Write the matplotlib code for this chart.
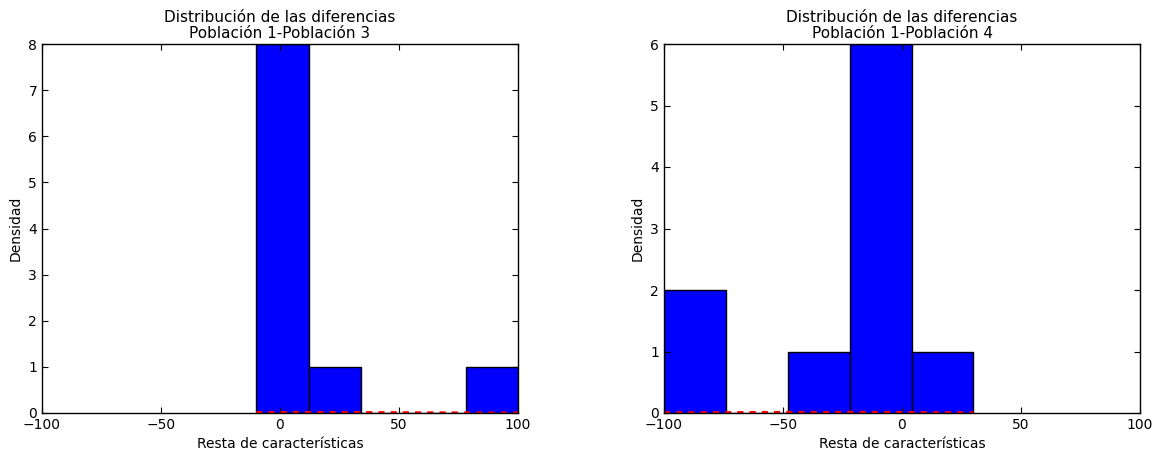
import numpy as np
import matplotlib.pyplot as plt

plt.rcParams.update({
    "font.family": "DejaVu Sans",
    "font.size": 10,
    "xtick.direction": "in",
    "ytick.direction": "in",
    "xtick.top": True,
    "ytick.right": True,
    "xtick.major.size": 4,
    "ytick.major.size": 4,
    "axes.linewidth": 1.0,
})

# Poblacion 1 - Poblacion 3
bins_13 = [-10, 12, 34, 56, 78, 100]
counts_13 = [8, 1, 0, 0, 1]
pdf_13 = [0.012, 0.016, 0.013, 0.008, 0.004, 0.002]

# Poblacion 1 - Poblacion 4
bins_14 = [-100, -74, -48, -22, 4, 30]
counts_14 = [2, 0, 1, 6, 1]
pdf_14 = [0.005, 0.009, 0.012, 0.013, 0.010, 0.006]

paneles = [
    ("Población 1-Población 3", bins_13, counts_13, pdf_13, 8),
    ("Población 1-Población 4", bins_14, counts_14, pdf_14, 6),
]

fig = plt.figure(figsize=(11.6, 4.51), dpi=100)
lefts = [42 / 1160, 664 / 1160]
for left, (sub, bins, counts, pdf, ymax) in zip(lefts, paneles):
    ax = fig.add_axes([left, 1 - 413 / 451, 476 / 1160, 369 / 451])
    ax.hist(bins[:-1], bins=bins, weights=counts, color="#0000ff",
            edgecolor="black", linewidth=1.0)
    ax.plot(bins, pdf, "r--", lw=2.0, dashes=(2.2, 2.2))
    ax.set_xlim(-100, 100)
    ax.set_ylim(0, ymax)
    ax.set_xticks([-100, -50, 0, 50, 100])
    ax.set_xlabel("Resta de características")
    ax.set_ylabel("Densidad")
    ax.set_title("Distribución de las diferencias\n" + sub, fontsize=11,
                 linespacing=1.15, pad=4)

fig.savefig("out.png", dpi=100)
